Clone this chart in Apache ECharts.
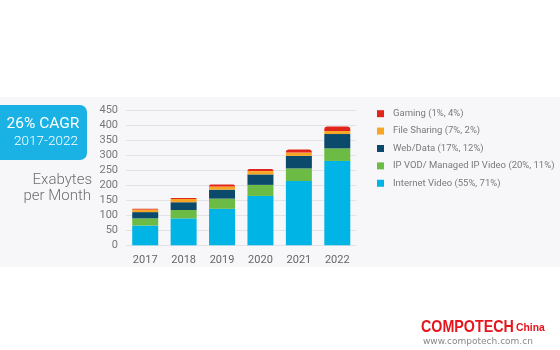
<!DOCTYPE html>
<html>
  <head>
    <style>
      html, body { margin: 0; padding: 0; background: #fff; }
      #chart { width: 560px; height: 350px; }
    </style>
  </head>
  <body>
    <div id="chart"></div>
    <script src="https://cdn.jsdelivr.net/npm/echarts@6/dist/echarts.min.js"></script>
    <script type="text/javascript">
      const years = ['2017', '2018', '2019', '2020', '2021', '2022'];
      const internetVideo = [66, 90, 122, 165, 215, 282];
      const ipVod = [24, 28, 34, 37, 42, 42];
      const webData = [21, 26, 30, 35, 42, 48];
      const fileSharing = [9, 11, 11, 11, 11, 10];
      const gaming = [2, 3, 6, 7, 10, 15];
      const legendNames = [
        'Gaming (1%, 4%)',
        'File Sharing (7%, 2%)',
        'Web/Data (17%, 12%)',
        'IP VOD/ Managed IP Video (20%, 11%)',
        'Internet Video (55%, 71%)'
      ];

      const font = 'Roboto, "Open Sans", sans-serif';
      const textGrey = '#7a7a7a';

      const makeSeries = (name, data, color, top) => ({
        name: name,
        type: 'bar',
        stack: 'traffic',
        barWidth: 26,
        data: data,
        itemStyle: { color: color, borderRadius: top ? [3, 3, 0, 0] : 0 }
      });

      const yLabel = { color: '#777', fontSize: 11, margin: 8 };

      const chart = echarts.init(document.getElementById('chart'));
      chart.setOption({
        animation: false,
        textStyle: { fontFamily: font },
        graphic: [
          { type: 'rect', z: -10, shape: { x: 0, y: 97, width: 560, height: 170 },
            style: { fill: '#f7f7f9' } },
          { type: 'rect', shape: { x: -8, y: 105, width: 95, height: 55, r: 7 },
            style: { fill: '#1ab1e4' } },
          { type: 'text', x: 43, y: 112,
            style: { text: '26% CAGR', fill: '#fff', align: 'center', font: '400 15.5px ' + font } },
          { type: 'text', x: 46, y: 131,
            style: { text: '2017-2022', fill: '#fff', align: 'center', font: '300 13.5px ' + font } },
          { type: 'text', x: 92, y: 168,
            style: { text: 'Exabytes', fill: '#6e6e6e', align: 'right', font: '300 15px ' + font } },
          { type: 'text', x: 91, y: 184,
            style: { text: 'per Month', fill: '#6e6e6e', align: 'right', font: '300 15px ' + font } },
          { type: 'text', x: 421, y: 313, scaleX: 0.84,
            style: { text: 'COMPOTECH', fill: '#e8141b',
                     font: 'bold 17px "Liberation Sans", sans-serif' } },
          { type: 'text', x: 516, y: 318, scaleX: 0.9,
            style: { text: 'China', fill: '#e8141b',
                     font: 'bold 11.5px "Liberation Sans", sans-serif' } },
          { type: 'text', x: 423, y: 333,
            style: { text: 'www.compotech.com.cn', fill: '#888', font: '9px "DejaVu Sans", sans-serif' } }
        ],
        legend: {
          orient: 'vertical',
          left: 372,
          top: 101,
          itemWidth: 7,
          itemHeight: 7,
          itemGap: 2,
          icon: 'rect',
          data: legendNames,
          textStyle: { color: textGrey, fontSize: 9.5, lineHeight: 12, fontFamily: font, padding: [0, 0, 0, 4] }
        },
        grid: { left: 126, right: 203.5, top: 110.7, bottom: 104.7, containLabel: false },
        xAxis: {
          type: 'category',
          data: years,
          axisLine: { show: false },
          axisTick: { show: false },
          axisLabel: { color: '#666', fontSize: 11, margin: 6 }
        },
        yAxis: [
          {
            type: 'value',
            min: 0,
            max: 450,
            interval: 50,
            axisLine: { show: false },
            axisTick: { show: false },
            axisLabel: Object.assign({ showMinLabel: false, showMaxLabel: false }, yLabel),
            splitLine: { lineStyle: { color: '#e3e3e6', width: 1 } }
          },
          {
            // end labels (0 and 450) on their own axis so they are not dropped as overlaps
            type: 'value',
            position: 'left',
            min: 0,
            max: 450,
            interval: 450,
            axisLine: { show: false },
            axisTick: { show: false },
            axisLabel: yLabel,
            splitLine: { show: false }
          }
        ],
        series: [
          makeSeries(legendNames[4], internetVideo, '#00b5e6', false),
          makeSeries(legendNames[3], ipVod, '#6cbb45', false),
          makeSeries(legendNames[2], webData, '#0c4a6b', false),
          makeSeries(legendNames[1], fileSharing, '#f6a623', false),
          makeSeries(legendNames[0], gaming, '#e3241b', true)
        ]
      });
    </script>
  </body>
</html>
